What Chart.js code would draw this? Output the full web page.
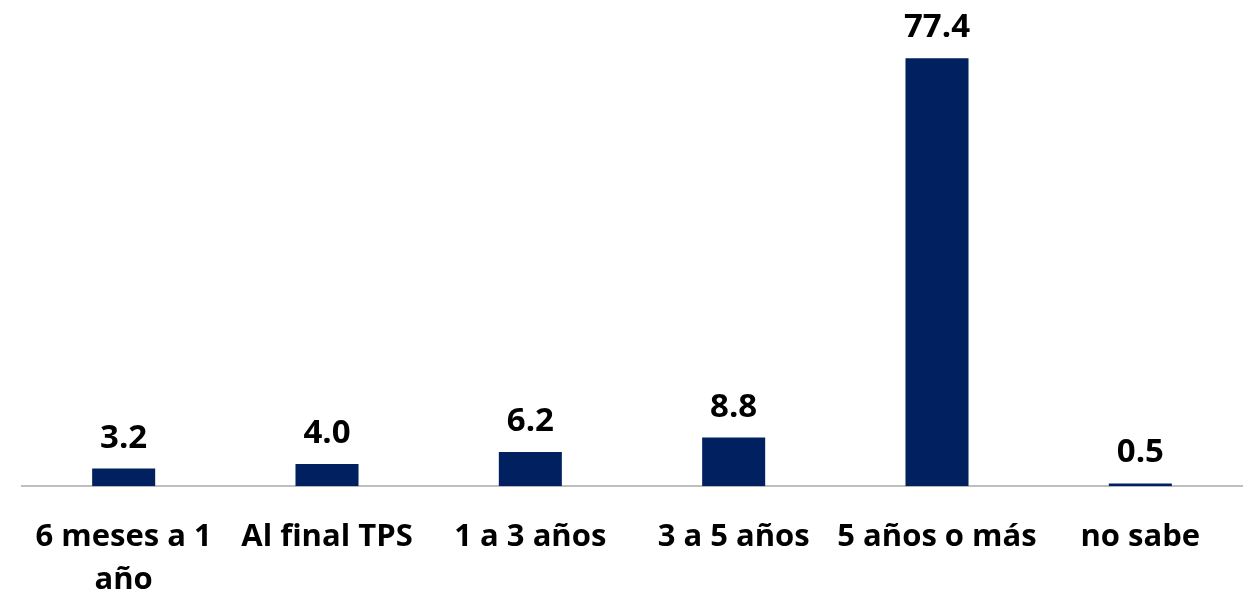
<!DOCTYPE html>
<html>
<head>
<meta charset="utf-8">
<script src="https://cdn.jsdelivr.net/npm/chart.js@4"></script>
<style>
  html, body { margin: 0; padding: 0; background: #fff; }
  #wrap { width: 1246px; height: 593px; }
</style>
</head>
<body>
<div id="wrap"><canvas id="myChart"></canvas></div>
<script>
const categories = [['6 meses a 1', 'año'], 'Al final TPS', '1 a 3 años', '3 a 5 años', '5 años o más', 'no sabe'];
const values = [3.2, 4.0, 6.2, 8.8, 77.4, 0.5];

// draws the value above each bar
const valueLabels = {
    id: 'valueLabels',
    afterDatasetsDraw(chart) {
        const ctx = chart.ctx;
        const meta = chart.getDatasetMeta(0);
        ctx.save();
        ctx.font = 'bold 33px "Open Sans"';
        ctx.fillStyle = '#000';
        ctx.textAlign = 'center';
        ctx.textBaseline = 'alphabetic';
        meta.data.forEach((bar, i) => {
            ctx.fillText(values[i].toFixed(1), bar.x, bar.y - 21);
        });
        ctx.restore();
    }
};

const ctx = document.getElementById('myChart').getContext('2d');
new Chart(ctx, {
    type: 'bar',
    data: {
        labels: categories,
        datasets: [{
            data: values,
            backgroundColor: '#002060',
            borderWidth: 0,
            barPercentage: 0.62,
            categoryPercentage: 0.5,
        }],
    },
    options: {
        responsive: true,
        maintainAspectRatio: false,
        animation: false,
        layout: { padding: { left: 22, right: 4, top: 44, bottom: -30 } },
        plugins: {
            legend: { display: false },
            tooltip: { enabled: false },
        },
        scales: {
            x: {
                grid: { display: false },
                border: { display: true, color: '#bfbfbf', width: 2 },
                ticks: {
                    color: '#000',
                    font: { family: '"Open Sans"', size: 31, weight: 'bold', lineHeight: 1.4 },
                    padding: 21,
                    maxRotation: 0,
                    autoSkip: false,
                },
            },
            y: {
                display: false,
                min: 0,
                max: 80,
            },
        },
    },
    plugins: [valueLabels],
});
</script>
</body>
</html>
